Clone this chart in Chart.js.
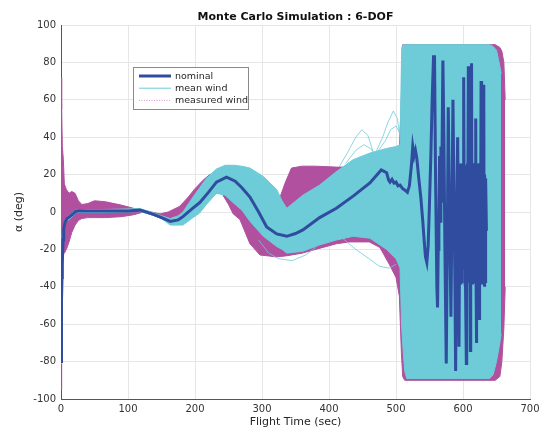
<!DOCTYPE html>
<html>
<head>
<meta charset="utf-8">
<script src="https://cdn.jsdelivr.net/npm/chart.js@4.4.0/dist/chart.umd.min.js"></script>
<style>
  html, body { margin: 0; padding: 0; background: #fff; }
</style>
</head>
<body>
<canvas id="mycanvas" width="545" height="429"></canvas>
<script>
// nominal trajectory (sec, deg)
var nomT = [0,0.5,1,1.5,2,3,4,6,9,13,18,22,26,40,60,80,100,118,130,140,150,163,175,182,195,207,220,232,247,260,270,282,295,307,322,337,350,361,386,411,436,461,478,486,489,491,494,497,500,503,506,510,514,517,520,523,525,527,529,531,534,537,540,542,544,546,548,550,552,554,556,557.5,559,561,562,563,564,565,566,567,568,570,571.5,573,575,576.5,578,579.5,581,582,583.5,585,586.5,588,589,590.5,592,593,594,595,595.5,596,596.5,597,597.5,598,598.5,599,599.5,600,601,602,602.5,603,603.5,604,605,605.5,606,606.5,607,608,608.5,609,609.5,610,611,611.5,612,612.5,613,613.5,614,614.5,615,615.5,616,616.5,617,617.5,618,619,619.5,620,620.5,621,621.5,622,622.5,623,623.5,624,624.5,625,625.5,626,627,627.5,628,628.5,629,629.5,630,631,631.5,632,632.5,633,633.5,634,635];
var nomA = [-80,-62,-47,-35,-27,-15,-9,-5.5,-3.5,-2.5,-1,0.3,0.6,0.5,0.5,0.6,0.6,1,-0.3,-1.5,-3,-5,-4.2,-2.5,1.5,5,10.5,16,18.6,16.5,13,8,0,-8,-11.7,-13,-11.5,-9.6,-3,2,8.5,15.5,22.5,21,17,16,17.5,15.5,16,14,14.4,12.5,11.5,10.5,14,25,35,30,33,29,18,8,-5,-15,-24,-27,-18,5,30,60,83,83,20,-40,-51,-20,-10,30,-5,35,5,81,40,-20,-81,-20,56,10,-30,-56,0,60,10,-40,-85,-5,40,0,-72,-10,26,-38,24,-36,20,-38,26,-30,22,-20,72,-15,25,-38,22,-40,-81,20,-36,26,-35,78,-30,24,-38,24,-74,15,-36,26,79.5,-38,26,-36,26,-38,24,-36,26,-38,24,50,-38,-70,22,-38,26,-38,24,-36,26,-57,24,-38,26,-38,70,-36,26,-38,26,-38,24,68,-30,20,-40,18,-38,18,-10];

// mean wind envelope
var cyanT  = [0,1,2,3,5,8,12,18,23,60,118,135,150,163,175,182,197,207,217,232,245,257,270,282,302,322,330,337,361,386,411,436,461,486,500,506,508.5,511,513,516,640,645,650,655,657];
var cyanHi = [-79,-44,-24,-11,-5,-3,-2,0,1.3,1.3,1.8,0,-2,-3.5,-2,0,8,13,18,23,25,25,24.5,23.5,19,12,6,2,9,14.4,21.6,28,31.5,34,35,36,88,89.5,89.5,89.5,89.5,88.5,86.5,78,74];
var cyanLo = [-81,-46,-26,-13,-7,-5,-4,-2,-0.3,-0.3,0.2,-1.5,-3.5,-7,-7,-7,-3,-0.5,4,10,9,5,1,-5,-13,-18.5,-20,-22,-21,-17.6,-15,-13,-14,-20,-25,-30,-62,-76,-85,-89,-89,-87,-80,-70,-65];

// single mean wind runs that stray outside the envelope
var loopT = [415,428,440,449,458,466,472,null,425,440,452,462,470,null,470,480,488,496,502,506,null,474,484,492,500,506,null,295,310,325,345,365,380,null,420,440,460,475,490,500];
var loopA = [24,32,40,44,41,32,28,null,26,33,36,34,30,null,32,40,48,54,50,40,null,33,38,44,46,42,null,-15,-22,-25,-26,-23,-19,null,-14,-20,-25,-29,-30,-28];

// measured wind envelope
var magT  = [0,1,2,3.5,5,8,12,16,21,26,31,40,50,66,90,108,118,125,135,148,160,177,190,200,212,222,230,240,250,257,267,282,297,310,320,327,335,344,360,380,411,430,460,476,490,500,505,508,510,513,648,655,658,661,663];
var magHi = [72,55,35,28,15,12,10,11,10,6,4,4.5,6,5.5,3.7,2,1.2,0.8,0,-1,0,3,8,12.5,17,20,21,17,15,14,12,8,5,3,3,8,16,23.5,24.5,24.5,24,24,28,31,33,34,34,60,89.5,89.5,89.5,88,86,80,60];
var magLo = [-95,-60,-30,-22,-22,-20,-16,-11,-7,-4.5,-3.5,-3,-3,-3,-2.5,-1.5,-0.5,0,-1.5,-3,-4,-5.5,-3,0,4,8,10,10,4,-1,-4,-17,-23,-23.5,-24,-23.8,-23.5,-23,-22,-20,-17,-16,-16,-19,-28,-35,-45,-75,-88,-90,-90,-88,-80,-62,-40];

var xTicks = [0,100,200,300,400,500,600,700];
var yTicks = [-100,-80,-60,-40,-20,0,20,40,60,80,100];

var NOMINAL = '#2f4c9f';
var CYAN = '#6ecbd8';
var MAGENTA = '#b0509e';

function pts(t, a) {
    var out = [];
    for (var i in t) {
        out.push({x: t[i], y: a[i]});
    }
    return out;
}

Chart.defaults.font.family = "'DejaVu Sans', sans-serif";
Chart.defaults.color = '#333';

// legend box drawn inside the plot, like the MATLAB one
var boxLegend = {
    id: 'boxLegend',
    afterDatasetsDraw: function(chart) {
        var ctx = chart.ctx;
        var items = [
            {label: 'nominal', color: NOMINAL, width: 3, dash: []},
            {label: 'mean wind', color: CYAN, width: 1, dash: []},
            {label: 'measured wind', color: '#dc8fd2', width: 1, dash: [1, 1.5]}
        ];
        ctx.save();
        ctx.fillStyle = '#fff';
        ctx.fillRect(133.5, 67.5, 115, 42);
        ctx.strokeStyle = '#8a8a8a';
        ctx.lineWidth = 1;
        ctx.strokeRect(133.5, 67.5, 115, 42);
        ctx.font = "9.5px 'DejaVu Sans'";
        ctx.textBaseline = 'middle';
        for (var i = 0; i < items.length; i++) {
            var y = 76 + i * 12.2;
            ctx.beginPath();
            ctx.setLineDash(items[i].dash);
            ctx.strokeStyle = items[i].color;
            ctx.lineWidth = items[i].width;
            ctx.moveTo(139, y);
            ctx.lineTo(171, y);
            ctx.stroke();
            ctx.setLineDash([]);
            ctx.fillStyle = '#262626';
            ctx.fillText(items[i].label, 175, y + 0.5);
        }
        ctx.restore();
    }
};

var ctx = document.getElementById('mycanvas');

var chart = new Chart(ctx, {
    type: 'line',
    data: {
        datasets: [
            {
                label: 'nominal',
                data: pts(nomT, nomA),
                borderColor: NOMINAL,
                borderWidth: 3,
                order: 0
            },
            {
                label: 'mean wind loops',
                data: pts(loopT, loopA),
                borderColor: CYAN,
                borderWidth: 0.8,
                order: 1
            },
            {
                label: 'mean wind',
                data: pts(cyanT, cyanHi),
                borderColor: CYAN,
                backgroundColor: CYAN,
                borderWidth: 1,
                fill: '+1',
                order: 2
            },
            {
                label: 'mean wind low',
                data: pts(cyanT, cyanLo),
                borderColor: CYAN,
                borderWidth: 1,
                order: 2
            },
            {
                label: 'measured wind',
                data: pts(magT, magHi),
                borderColor: MAGENTA,
                backgroundColor: MAGENTA,
                borderWidth: 1,
                fill: '+1',
                order: 3
            },
            {
                label: 'measured wind low',
                data: pts(magT, magLo),
                borderColor: MAGENTA,
                borderWidth: 1,
                order: 3
            }
        ]
    },
    options: {
        responsive: false,
        animation: false,
        devicePixelRatio: 1,
        elements: {
            point: { radius: 0 },
            line: { tension: 0 }
        },
        layout: { padding: { left: 0, right: 15, top: 0, bottom: 0 } },
        plugins: {
            legend: { display: false },
            tooltip: { enabled: false },
            title: {
                display: true,
                text: 'Monte Carlo Simulation : 6-DOF',
                fullSize: false,
                color: '#111',
                font: { size: 11, weight: 'bold' },
                padding: { top: 10.4, bottom: 1.4 }
            }
        },
        scales: {
            x: {
                type: 'linear',
                min: 0,
                max: 700,
                afterFit: function(scale) { scale.height = 30; },
                afterBuildTicks: function(scale) { scale.ticks = xTicks.map(function(v) { return {value: v}; }); },
                ticks: { padding: 4, font: { size: 10 }, color: '#333', maxRotation: 0 },
                grid: { color: '#e6e6e6', drawTicks: false },
                border: { color: '#555' },
                title: { display: true, text: 'Flight Time (sec)', font: { size: 11 }, color: '#262626', padding: { top: 0, bottom: 0 } }
            },
            y: {
                type: 'linear',
                min: -100,
                max: 100,
                afterFit: function(scale) { scale.width = 61; },
                afterBuildTicks: function(scale) { scale.ticks = yTicks.map(function(v) { return {value: v}; }); },
                ticks: { padding: 5, font: { size: 10 }, color: '#333' },
                grid: { color: '#e6e6e6', drawTicks: false },
                border: { color: '#555' },
                title: { display: true, text: 'α (deg)', font: { size: 11 }, color: '#262626', padding: { top: 13, bottom: 0 } }
            }
        }
    },
    plugins: [boxLegend]
});
</script>
</body>
</html>
